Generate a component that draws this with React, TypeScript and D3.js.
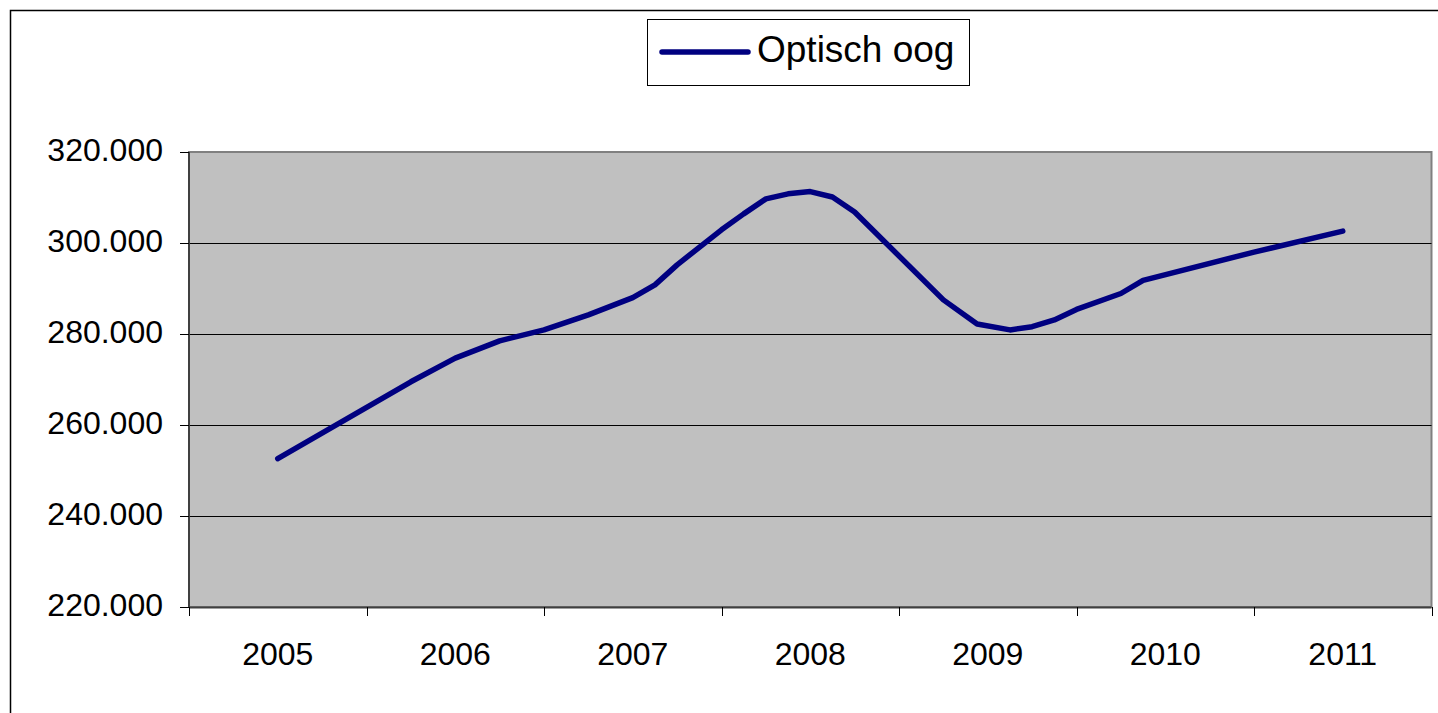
import React, { useEffect, useRef } from "react";
import * as d3 from "d3";

// categories on the axis
const years = ["2005", "2006", "2007", "2008", "2009", "2010", "2011"];
// fractional year of each point on the line
const periods = [
  2005, 2005.75, 2006, 2006.25, 2006.5, 2006.75, 2007, 2007.125, 2007.25,
  2007.5, 2007.625, 2007.75, 2007.875, 2008, 2008.125, 2008.25, 2008.75,
  2008.94, 2009.125, 2009.25, 2009.375, 2009.5, 2009.75, 2009.875, 2010.5,
  2011,
];
// Optisch oog
const values = [
  252600, 269500, 274700, 278500, 280900, 284200, 288000, 290800, 295200,
  302900, 306400, 309700, 310800, 311300, 310100, 306800, 287500, 282200,
  280900, 281600, 283100, 285400, 288900, 291800, 298000, 302600,
];
const yTicks = [220000, 240000, 260000, 280000, 300000, 320000];
const seriesName = "Optisch oog";

const W = 1438;
const H = 713;
const FONT = "'Liberation Sans', Arial, sans-serif";

const nl = d3.formatLocale({
  decimal: ",",
  thousands: ".",
  grouping: [3],
  currency: ["", ""],
});
const fmt = nl.format(",.0f");

const App = () => {
  const ref = useRef<SVGSVGElement>(null);

  useEffect(() => {
    document.body.style.margin = "0";
    const svg = d3.select(ref.current);
    svg.selectAll("*").remove();

    // plot area
    const left = 189;
    const right = 1431.5;
    const top = 152;
    const bottom = 607;

    const xBand = d3.scaleBand().domain(years).range([left, right]).padding(0);
    const bw = xBand.bandwidth();
    const xScale = d3
      .scaleLinear()
      .domain([2005, 2011])
      .range([xBand("2005")! + bw / 2, xBand("2011")! + bw / 2]);
    const yScale = d3.scaleLinear().domain([220000, 320000]).range([bottom, top]);

    // outer chart frame
    svg
      .append("rect")
      .attr("x", 10.5)
      .attr("y", 10.5)
      .attr("width", W + 50)
      .attr("height", H + 50)
      .attr("fill", "#fff")
      .attr("stroke", "#000")
      .attr("stroke-width", 1.5);

    // plot background
    svg
      .append("rect")
      .attr("x", left)
      .attr("y", top)
      .attr("width", right - left)
      .attr("height", bottom - top)
      .attr("fill", "#c0c0c0")
      .attr("stroke", "#808080")
      .attr("stroke-width", 2);

    // gridlines
    svg
      .append("g")
      .selectAll("line")
      .data(yTicks.filter((d) => d > 220000 && d < 320000))
      .enter()
      .append("line")
      .attr("x1", left)
      .attr("x2", right)
      .attr("y1", (d) => Math.round(yScale(d)) + 0.5)
      .attr("y2", (d) => Math.round(yScale(d)) + 0.5)
      .attr("stroke", "#000")
      .attr("stroke-width", 1);

    // y axis
    svg
      .append("line")
      .attr("x1", left)
      .attr("x2", left)
      .attr("y1", top)
      .attr("y2", bottom)
      .attr("stroke", "#404040")
      .attr("stroke-width", 2);

    const yAxis = svg.append("g");
    yAxis
      .selectAll("line")
      .data(yTicks)
      .enter()
      .append("line")
      .attr("x1", left - 9)
      .attr("x2", left)
      .attr("y1", (d) => Math.round(yScale(d)) + 0.5)
      .attr("y2", (d) => Math.round(yScale(d)) + 0.5)
      .attr("stroke", "#000");
    yAxis
      .selectAll("text")
      .data(yTicks)
      .enter()
      .append("text")
      .attr("x", 163)
      .attr("y", (d) => yScale(d) + 9)
      .attr("text-anchor", "end")
      .attr("font-family", FONT)
      .attr("font-size", 32)
      .attr("fill", "#000")
      .text((d) => fmt(d));

    // x axis
    svg
      .append("line")
      .attr("x1", left)
      .attr("x2", right)
      .attr("y1", bottom + 0.5)
      .attr("y2", bottom + 0.5)
      .attr("stroke", "#404040")
      .attr("stroke-width", 2);

    const bounds = years.map((y) => xBand(y)!).concat([right]);
    const xAxis = svg.append("g");
    xAxis
      .selectAll("line")
      .data(bounds)
      .enter()
      .append("line")
      .attr("x1", (d) => Math.round(d) + 0.5)
      .attr("x2", (d) => Math.round(d) + 0.5)
      .attr("y1", bottom)
      .attr("y2", bottom + 9)
      .attr("stroke", "#000");
    xAxis
      .selectAll("text")
      .data(years)
      .enter()
      .append("text")
      .attr("x", (d) => xBand(d)! + bw / 2)
      .attr("y", 665)
      .attr("text-anchor", "middle")
      .attr("font-family", FONT)
      .attr("font-size", 32)
      .attr("fill", "#000")
      .text((d) => d);

    // the line
    const line = d3
      .line<number>()
      .x((d, i) => xScale(periods[i]))
      .y((d) => yScale(d));

    svg
      .append("path")
      .datum(values)
      .attr("fill", "none")
      .attr("stroke", "#000080")
      .attr("stroke-width", 5.5)
      .attr("stroke-linecap", "round")
      .attr("stroke-linejoin", "round")
      .attr("d", line);

    // legend
    const legend = svg.append("g");
    legend
      .append("rect")
      .attr("x", 647.5)
      .attr("y", 19.5)
      .attr("width", 322)
      .attr("height", 66)
      .attr("fill", "#fff")
      .attr("stroke", "#000")
      .attr("stroke-width", 1);
    legend
      .append("line")
      .attr("x1", 662)
      .attr("x2", 748)
      .attr("y1", 52)
      .attr("y2", 52)
      .attr("stroke", "#000080")
      .attr("stroke-width", 5.5)
      .attr("stroke-linecap", "round");
    legend
      .append("text")
      .attr("x", 757)
      .attr("y", 62)
      .attr("font-family", FONT)
      .attr("font-size", 37)
      .attr("fill", "#000")
      .text(seriesName);
  }, []);

  return (
    <svg
      ref={ref}
      width={W}
      height={H}
      style={{ display: "block", background: "#fff" }}
    ></svg>
  );
};

export default App;
